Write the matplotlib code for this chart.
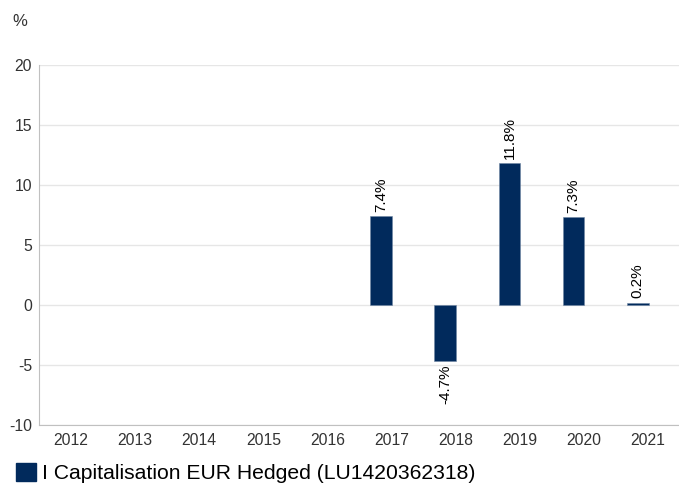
import matplotlib as mpl
import matplotlib.pyplot as plt
import numpy as np

mpl.rcParams['font.family'] = ['Liberation Sans', 'DejaVu Sans']
mpl.rcParams['axes.unicode_minus'] = False

years = ['2012', '2013', '2014', '2015', '2016', '2017', '2018', '2019', '2020', '2021']
returns = [None, None, None, None, None, 7.4, -4.7, 11.8, 7.3, 0.2]
series_name = 'I Capitalisation EUR Hedged (LU1420362318)'

bar_color = '#012a5c'
text_color = '#333333'

fig = plt.figure(figsize=(6.79, 4.84), dpi=100)
ax = fig.add_axes([39 / 679, 1 - 425 / 484, 641 / 679, 360 / 484])

x = np.arange(len(years))
offset = -0.16  # bars sit a little left of the category centre
for xi, v in zip(x, returns):
    if v is None:
        continue
    ax.bar(xi + offset, v, width=0.34, color=bar_color, edgecolor='#6f86a3', linewidth=0.4, zorder=3)
    if v >= 0:
        ax.annotate(f'{v}%', (xi + offset, v), xytext=(0, 3), textcoords='offset points',
                    rotation=90, ha='center', va='bottom', fontsize=11, color='black')
    else:
        ax.annotate(f'{v}%', (xi + offset, v), xytext=(0, -2), textcoords='offset points',
                    rotation=90, ha='center', va='top', fontsize=11, color='black')

ax.set_xlim(-0.5, 9.5)
ax.set_ylim(-10, 20)
ax.set_yticks([-10, -5, 0, 5, 10, 15, 20])
ax.set_xticks(x)
ax.set_xticklabels(years)
ax.grid(axis='y', color='#e6e6e6', linewidth=1, zorder=0)
ax.set_axisbelow(True)

for side in ['top', 'right']:
    ax.spines[side].set_visible(False)
ax.spines['left'].set_color('#c0c0c0')
ax.spines['bottom'].set_color('#c0c0c0')
ax.tick_params(axis='both', length=0, labelsize=11.3, colors=text_color)
ax.tick_params(axis='y', pad=5)
ax.tick_params(axis='x', pad=5.5)

fig.text(12 / 679, 1 - 22 / 484, '%', fontsize=12, color=text_color, va='center', ha='left')

handle = mpl.patches.Patch(facecolor=bar_color, edgecolor=bar_color)
fig.legend([handle], [series_name], loc='lower left', bbox_to_anchor=(-1 / 679, -16 / 484),
           frameon=False, fontsize=15.2, handlelength=0.95, handleheight=0.95,
           handletextpad=0.3, borderpad=0.3, labelcolor='black')

fig.savefig('out.png', dpi=100)
